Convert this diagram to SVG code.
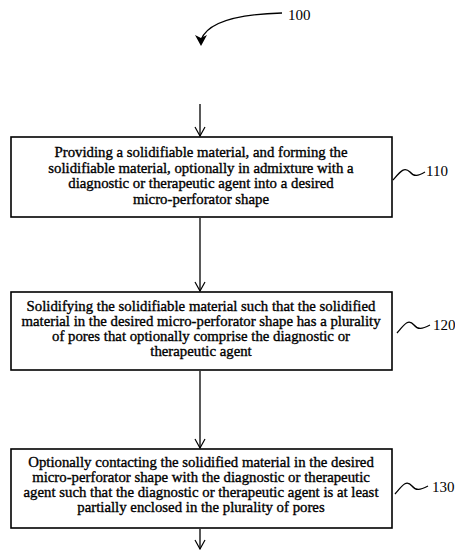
<svg xmlns="http://www.w3.org/2000/svg" width="455" height="550" viewBox="0 0 455 550">
<defs>
<style>
.box{fill:#fff;stroke:#000;stroke-width:1.6}
.ln{fill:none;stroke:#000;stroke-width:1.3}
.t{font-family:"Liberation Serif","Times New Roman",serif;font-size:14.8px;fill:#000;stroke:#000;stroke-width:0.35;text-anchor:middle}
.lbl{font-family:"Liberation Serif","Times New Roman",serif;font-size:15px;fill:#000}
</style>
<marker id="open" markerWidth="12" markerHeight="12" refX="10" refY="6" orient="auto" markerUnits="userSpaceOnUse" viewBox="0 0 12 12">
<path d="M1,1 L10,6 L1,11" fill="none" stroke="#000" stroke-width="1.2"/>
</marker>
</defs>
<g id="ref100">
<path class="ln" d="M282,13 C245,14 208,20 201,40" stroke-width="1.6"/>
<path d="M195,35 L201,46 L207,35 L201,38 Z" fill="#000"/>
<text class="lbl" x="288" y="20">100</text>
</g>
<g id="connectors">
<line class="ln" x1="200" y1="104" x2="200" y2="136" marker-end="url(#open)"/>
<line class="ln" x1="200" y1="218" x2="200" y2="291" marker-end="url(#open)"/>
<line class="ln" x1="200" y1="371" x2="200" y2="448" marker-end="url(#open)"/>
<line class="ln" x1="200" y1="529" x2="200" y2="549" marker-end="url(#open)"/>
</g>
<g id="step110">
<rect class="box" x="11" y="137" width="381" height="80"/>
<text class="t" x="201" y="157">Providing a solidifiable material, and forming the</text>
<text class="t" x="201" y="173">solidifiable material, optionally in admixture with a</text>
<text class="t" x="201" y="188">diagnostic or therapeutic agent into a desired</text>
<text class="t" x="201" y="204">micro-perforator shape</text>
<path class="ln" d="M393,180 C400,172 404,166 410,172 C414,177 418,176 425,172"/>
<text class="lbl" x="426" y="176">110</text>
</g>
<g id="step120">
<rect class="box" x="11" y="292" width="381" height="78"/>
<text class="t" x="201" y="311">Solidifying the solidifiable material such that the solidified</text>
<text class="t" x="201" y="326">material in the desired micro-perforator shape has a plurality</text>
<text class="t" x="201" y="341">of pores that optionally comprise the diagnostic or</text>
<text class="t" x="201" y="356">therapeutic agent</text>
<path class="ln" d="M397,333 C404,325 408,318 414,325 C418,330 422,329 430,325"/>
<text class="lbl" x="433" y="330">120</text>
</g>
<g id="step130">
<rect class="box" x="11" y="449" width="381" height="79"/>
<text class="t" x="201" y="467">Optionally contacting the solidified material in the desired</text>
<text class="t" x="201" y="482">micro-perforator shape with the diagnostic or therapeutic</text>
<text class="t" x="201" y="497">agent such that the diagnostic or therapeutic agent is at least</text>
<text class="t" x="201" y="512">partially enclosed in the plurality of pores</text>
<path class="ln" d="M395,494 C402,486 406,479 412,486 C416,491 420,490 428,486"/>
<text class="lbl" x="432" y="492">130</text>
</g>
</svg>
